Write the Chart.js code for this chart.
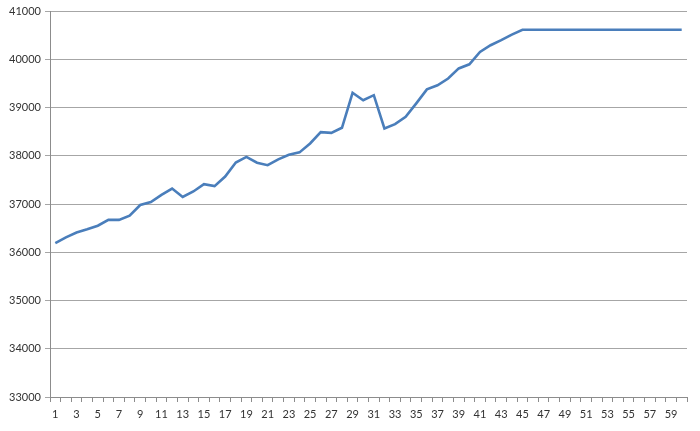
<!DOCTYPE html>
<html>
<head>
<meta charset="utf-8">
<script src="https://cdn.jsdelivr.net/npm/chart.js@4/dist/chart.umd.min.js"></script>
<style>
  html, body { margin: 0; padding: 0; background: #fff; }
  #wrap { width: 700px; height: 431px; }
</style>
</head>
<body>
<div id="wrap"><canvas id="chart"></canvas></div>
<script>
// values
const categories = Array.from({ length: 60 }, (_, i) => String(i + 1));
const values = [
  36190, 36310, 36410, 36475, 36550, 36670, 36670, 36760, 36980, 37040,
  37190, 37320, 37145, 37260, 37410, 37370, 37570, 37860, 37975, 37855,
  37805, 37925, 38020, 38070, 38255, 38490, 38475, 38580, 39305, 39150,
  39255, 38565, 38655, 38805, 39085, 39375, 39460, 39600, 39810, 39895,
  40150, 40290, 40395, 40510, 40610, 40610, 40610, 40610, 40610, 40610,
  40610, 40610, 40610, 40610, 40610, 40610, 40610, 40610, 40610, 40610
];
const yMin = 33000;
const yMax = 41000;
const yStep = 1000;

const ctx = document.getElementById("chart").getContext("2d");
new Chart(ctx, {
  type: "line",
  data: {
    labels: categories,
    datasets: [{
      data: values,
      borderColor: "#4a7ebb",
      backgroundColor: "#4a7ebb",
      borderWidth: 2.6,
      pointRadius: 0,
      tension: 0
    }]
  },
  options: {
    responsive: true,
    maintainAspectRatio: false,
    animation: false,
    layout: { padding: { top: 11, right: 13, left: 0, bottom: 0 } },
    plugins: { legend: { display: false }, tooltip: { enabled: false } },
    scales: {
      x: {
        offset: true,
        grid: { offset: true, drawOnChartArea: false, drawTicks: true, tickLength: 5, color: "#8c8c8c" },
        border: { color: "#8c8c8c" },
        ticks: {
          autoSkip: false,
          maxRotation: 0,
          padding: 6,
          color: "#333",
          font: { family: "Lato", size: 11 },
          callback: (v, i) => (i % 2 === 0 ? categories[i] : "")
        },
        afterFit: s => { s.height = 34; }
      },
      y: {
        min: yMin,
        max: yMax,
        grid: { color: "#a6a6a6", tickLength: 5 },
        border: { color: "#8c8c8c" },
        ticks: {
          stepSize: yStep,
          padding: 4,
          color: "#333",
          font: { family: "Lato", size: 11 },
          callback: v => String(v)
        },
        afterFit: s => { s.width = 50; }
      }
    }
  }
});
</script>
</body>
</html>
